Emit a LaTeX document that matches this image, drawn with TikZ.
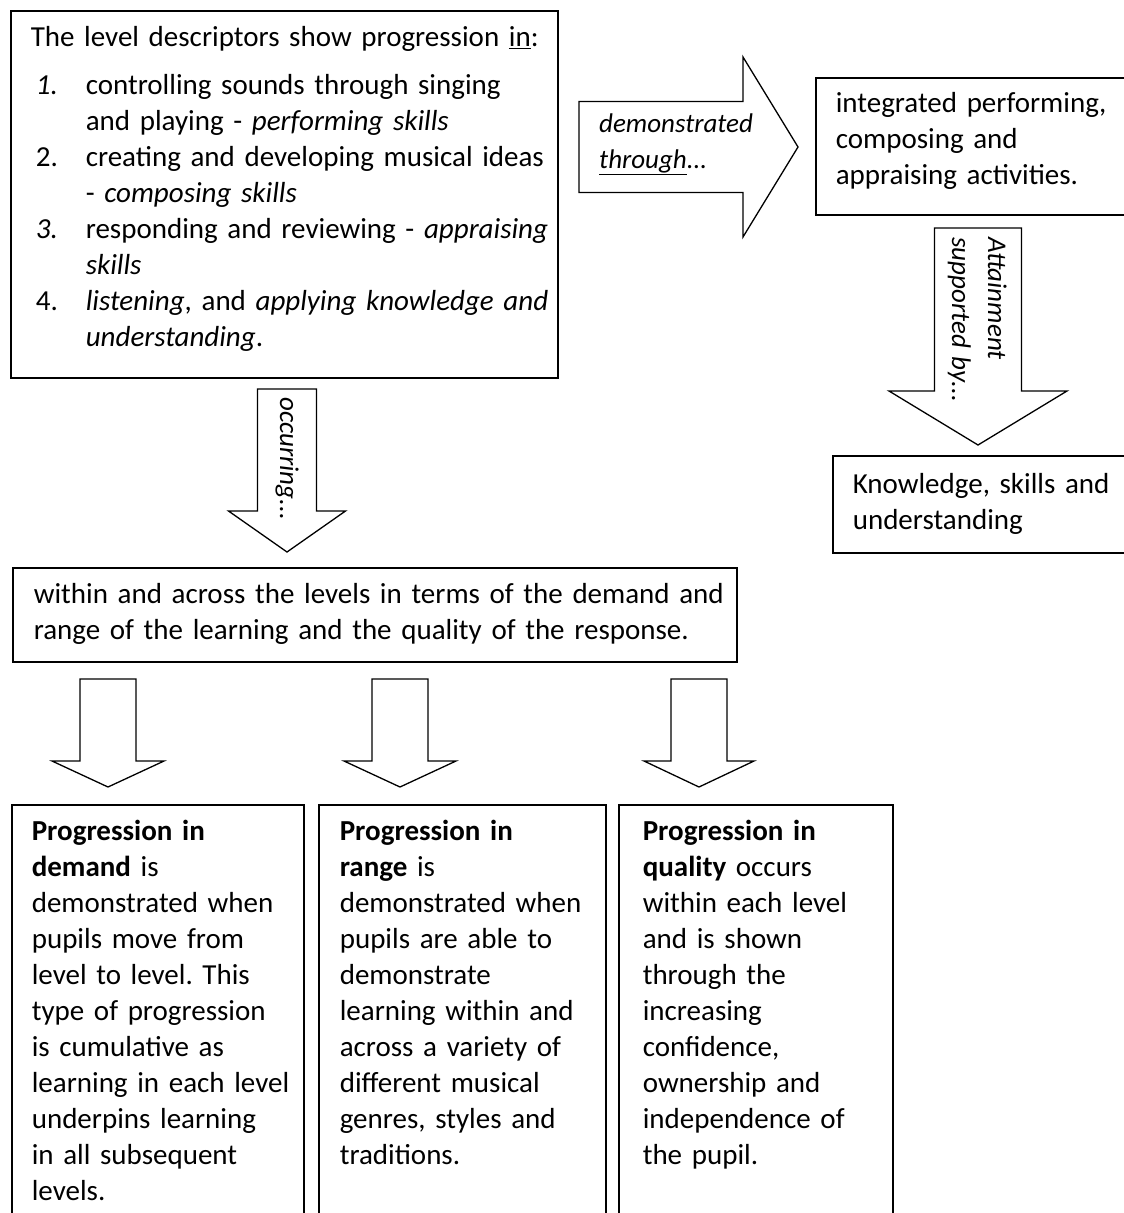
\documentclass[tikz,border=0pt]{standalone}
\usepackage{fontspec}
\setmainfont{Carlito}
\usepackage{tikz}
\tikzstyle{txt}=[font=\fontsize{29}{36}\selectfont, align=left,
  execute at begin node={\rightskip=-60pt plus 1fil\relax\hyphenpenalty=10000\frenchspacing}]
\tikzstyle{box}=[txt, draw, line width=1.6pt, anchor=north west, inner xsep=20pt, inner ysep=0pt, text height=36pt]
\tikzstyle{lbl}=[txt, font=\fontsize{27}{36}\selectfont\itshape, inner sep=0pt, anchor=base west, text width=220pt]
\tikzstyle{blk}=[draw, line width=1.3pt, line join=miter, fill=white]
\newcommand\lvnum[1]{\hspace*{5pt}\makebox[50pt][l]{#1}}
\newcommand\lvgap{\hspace*{55pt}}
\newcommand\blockdown[5]{%
  \draw[blk] ([xshift=-#3]#1) -- ([xshift=#3]#1) -- ([xshift=#3,yshift=#5]#2) -- ([xshift=#4,yshift=#5]#2)
    -- (#2) -- ([xshift=-#4,yshift=#5]#2) -- ([xshift=-#3,yshift=#5]#2) -- cycle;}
\newcommand\blockright[5]{%
  \draw[blk] ([yshift=#3]#1) -- ([xshift=-#5,yshift=#3]#2) -- ([xshift=-#5,yshift=#4]#2)
    -- (#2) -- ([xshift=-#5,yshift=-#4]#2) -- ([xshift=-#5,yshift=-#3]#2) -- ([yshift=-#3]#1) -- cycle;}
\begin{document}
\begin{tikzpicture}[x=1pt,y=-1pt]
	\useasboundingbox[fill=white] (0,0) rectangle (1124,1213);
	\node[box, text width=507pt, text depth=331pt] (descr) at (10,10) {%
		The level descriptors show progression \underline{in}:\\[12pt]
		\lvnum{\textit{1.}}controlling sounds through singing\\
		\lvgap and playing - \textit{performing skills}\\
		\lvnum{2.}creating and developing musical ideas\\
		\lvgap - \textit{composing skills}\\
		\lvnum{\textit{3.}}responding and reviewing - \textit{appraising}\\
		\lvgap\textit{skills}\\
		\lvnum{4.}\textit{listening}, and \textit{applying knowledge and}\\
		\lvgap\textit{understanding}.};
	\node[box, text width=285pt, text height=35pt, text depth=102pt] (integ) at (815,77) {%
		integrated performing,\\composing and\\appraising activities.};
	\node[box, text width=268pt, text height=38pt, text depth=59pt] (ksu) at (832,455) {%
		Knowledge, skills and\\understanding};
	\node[box, inner xsep=21pt, text width=682pt, text depth=58pt] (levels) at (12,567) {%
		within and across the levels in terms of the demand and\\
		range of the learning and the quality of the response.};
	\node[box, text width=252pt, text depth=390pt] (demand) at (11,804) {%
		\textbf{Progression in}\\\textbf{demand} is\\demonstrated when\\pupils move from\\level to level. This\\
		type of progression\\is cumulative as\\learning in each level\\underpins learning\\in all subsequent\\levels.};
	\node[box, inner xsep=21pt, text width=245pt, text depth=390pt] (range) at (318,804) {%
		\textbf{Progression in}\\\textbf{range} is\\demonstrated when\\pupils are able to\\demonstrate\\
		learning within and\\across a variety of\\different musical\\genres, styles and\\traditions.};
	\node[box, inner xsep=24pt, text width=226pt, text depth=390pt] (quality) at (618,804) {%
		\textbf{Progression in}\\\textbf{quality} occurs\\within each level\\and is shown\\through the\\
		increasing\\confidence,\\ownership and\\independence of\\the pupil.};

	\coordinate (demo-s) at (579,147);
	\coordinate (demo-t) at (798,147);
	\coordinate (attain-s) at (978,228);
	\coordinate (attain-t) at (978,445);
	\coordinate (occur-s) at (287,389);
	\coordinate (occur-t) at (287,552);
	\coordinate (dem-s) at (108,679);
	\coordinate (dem-t) at (108,787);
	\coordinate (ran-s) at (400,679);
	\coordinate (ran-t) at (400,787);
	\coordinate (qua-s) at (699,679);
	\coordinate (qua-t) at (699,787);
	\blockright{demo-s}{demo-t}{45.5pt}{90pt}{55pt}
	\blockdown{attain-s}{attain-t}{43.5pt}{89pt}{54pt}
	\blockdown{occur-s}{occur-t}{29.5pt}{58.5pt}{41pt}
	\blockdown{dem-s}{dem-t}{28pt}{56pt}{26pt}
	\blockdown{ran-s}{ran-t}{28pt}{56pt}{26pt}
	\blockdown{qua-s}{qua-t}{28pt}{55pt}{26pt}

	\node[lbl] (demo) at (599,132) {demonstrated\\\underline{through}...};
	\node[lbl, rotate=-90] (attain) at (988,237) {Attainment\\supported by...};
	\node[lbl, rotate=-90] (occur) at (280,397) {occurring...};
\end{tikzpicture}
\end{document}
